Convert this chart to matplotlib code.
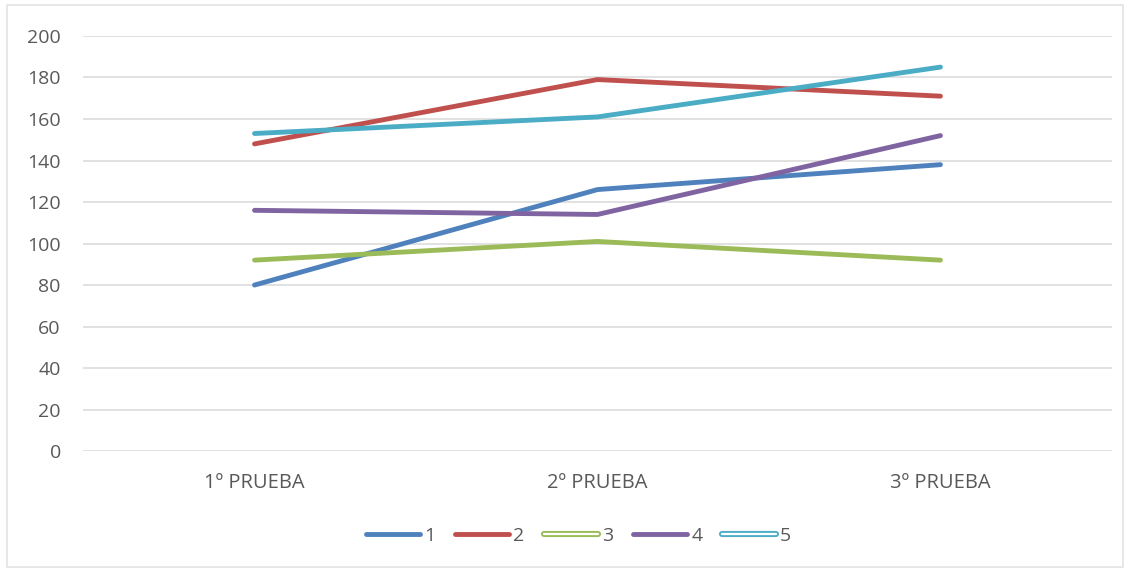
import matplotlib
matplotlib.use("Agg")
import matplotlib.pyplot as plt
from matplotlib.lines import Line2D
from matplotlib.patches import Rectangle
import matplotlib.patheffects as pe

pruebas = ["1º PRUEBA", "2º PRUEBA", "3º PRUEBA"]
serie_1 = [80, 126, 138]
serie_2 = [148, 179, 171]
serie_3 = [92, 101, 92]
serie_4 = [116, 114, 152]
serie_5 = [153, 161, 185]
nombres = ["1", "2", "3", "4", "5"]
colores = ["#4F81BD", "#C0504D", "#9BBB59", "#8064A2", "#4BACC6"]

plt.rcParams['font.family'] = ['Open Sans', 'DejaVu Sans']
gris = "#595959"

fig = plt.figure(figsize=(11.3, 5.71), dpi=100)
ax = fig.add_axes([0.0735, 0.21, 0.9105, 0.727])

x = range(len(pruebas))
series = [serie_1, serie_2, serie_3, serie_4, serie_5]
for vals, c in zip(series, colores):
    ax.plot(x, vals, color=c, lw=3.5, solid_capstyle="round", solid_joinstyle="round")

ax.set_xlim(-0.5, 2.5)
ax.set_ylim(0, 200)
ax.set_yticks(range(0, 201, 20))
ax.set_xticks(list(x))
ax.set_xticklabels(pruebas)
ax.grid(axis="y", color="#D9D9D9", lw=1.1)
ax.set_axisbelow(True)
for s in ax.spines.values():
    s.set_visible(False)
ax.tick_params(length=0, colors=gris, labelsize=14)
ax.tick_params(axis="y", pad=16)
ax.tick_params(axis="x", pad=16)
for t in ax.get_xticklabels():
    t.set_fontsize(14.5)

# leyenda: las series 3 y 5 salen huecas en el original
handles = []
for i, c in enumerate(colores):
    if i in (2, 4):
        h = Line2D([], [], color="white", lw=1.6, solid_capstyle="round",
                   path_effects=[pe.Stroke(linewidth=4.4, foreground=c, capstyle="round"), pe.Normal()])
    else:
        h = Line2D([], [], color=c, lw=3.5, solid_capstyle="round")
    handles.append(h)
fig.legend(handles, nombres, loc="center", bbox_to_anchor=(0.512, 0.062), ncol=5,
           frameon=False, fontsize=14, handlelength=2.8, handletextpad=0.2,
           columnspacing=1.0, labelcolor=gris)

fig.patches.append(Rectangle((0.006, 0.007), 0.988, 0.984, transform=fig.transFigure,
                             fill=False, edgecolor="#E3E3E3", lw=1.2))

fig.savefig("out.png", dpi=100)
